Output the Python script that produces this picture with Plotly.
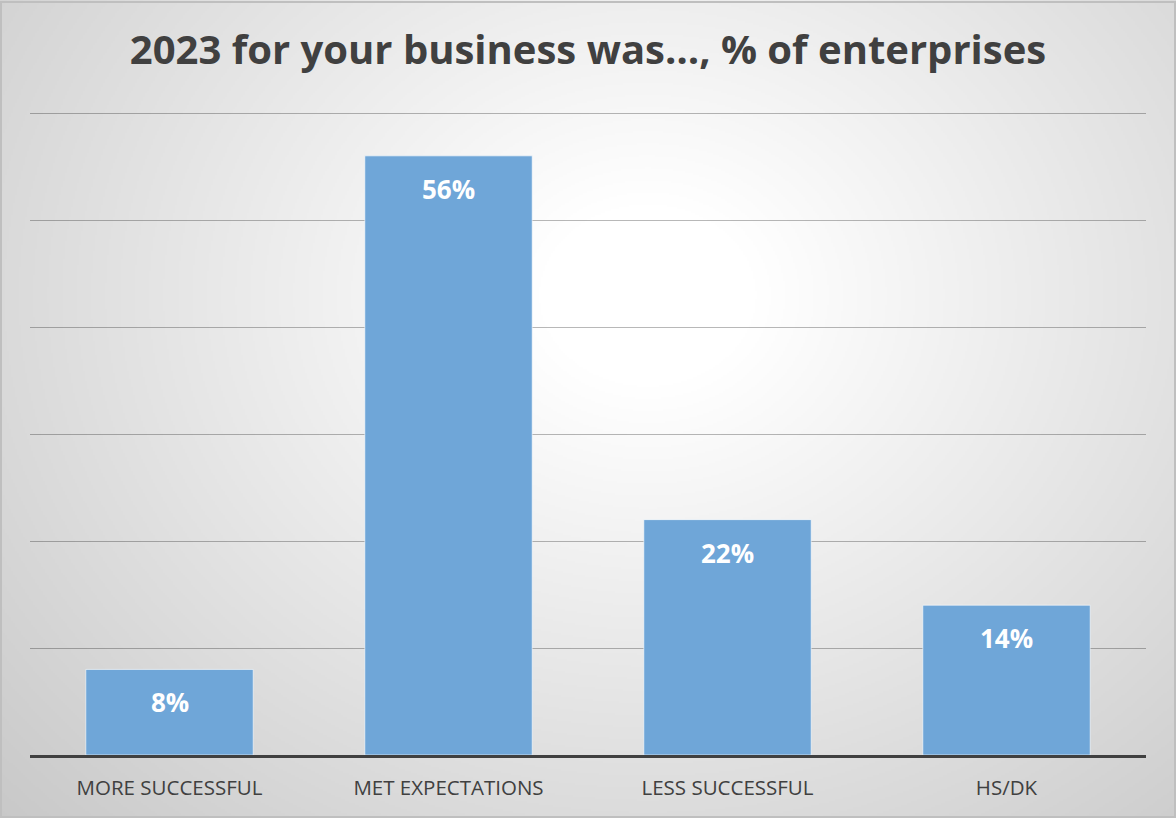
import base64, struct, zlib
import numpy as np
import plotly.graph_objects as go

categories = ["MORE SUCCESSFUL", "MET EXPECTATIONS", "LESS SUCCESSFUL", "HS/DK"]
values = [8, 56, 22, 14]
labels = ["8%", "56%", "22%", "14%"]
title = "2023 for your business was…, % of enterprises"

W, H = 1176, 818
L, R, T, B = 30, 30, 112, 63
pw, ph = W - L - R, H - T - B
YMAX = 60.1

# radial gradient background as PNG data URI
def gradient_png(w, h):
    yy, xx = np.mgrid[0:h, 0:w]
    cx, cy = 0.55 * w, 0.36 * h
    rx, ry = 0.62 * w, 0.75 * h
    t = np.sqrt(((xx - cx) / rx) ** 2 + ((yy - cy) / ry) ** 2)
    t = np.clip(t, 0, 1.3)
    v = 255 - 58 * np.clip(t - 0.15, 0, None) / 1.15
    v = np.clip(v, 0, 255).astype(np.uint8)
    img = np.stack([v, v, v], axis=-1)
    raw = b"".join(b"\x00" + img[r].tobytes() for r in range(h))
    def chunk(tag, data):
        c = struct.pack(">I", len(data)) + tag + data
        return c + struct.pack(">I", zlib.crc32(tag + data) & 0xffffffff)
    png = b"\x89PNG\r\n\x1a\n" + chunk(b"IHDR", struct.pack(">IIBBBBB", w, h, 8, 2, 0, 0, 0))
    png += chunk(b"IDAT", zlib.compress(raw, 9)) + chunk(b"IEND", b"")
    return "data:image/png;base64," + base64.b64encode(png).decode()

bg = gradient_png(W // 2, H // 2)

fig = go.Figure()
fig.add_trace(go.Bar(
    x=categories, y=values,
    marker=dict(color="rgb(111,166,216)", line=dict(color="rgba(255,255,255,0.6)", width=1)),
    hoverinfo="skip",
))

for c, v, lab in zip(categories, values, labels):
    fig.add_annotation(x=c, y=v, text=lab, showarrow=False, yanchor="middle", yshift=-33,
                       font=dict(family="Open Sans", size=26, color="white", weight="bold"))

fig.update_layout(
    width=W, height=H,
    margin=dict(l=L, r=R, t=T, b=B),
    paper_bgcolor="rgba(0,0,0,0)",
    plot_bgcolor="rgba(0,0,0,0)",
    bargap=0.4,
    showlegend=False,
    title=dict(text="<b>" + title + "</b>", x=0.5, xanchor="center", y=1 - 50 / H, yanchor="middle",
               font=dict(family="Open Sans", size=40, color="#404040")),
    xaxis=dict(showline=True, linecolor="#404040", linewidth=3, ticks="", showgrid=False,
               tickfont=dict(family="Open Sans", size=20.5, color="#404040"), ticklabelstandoff=12,
               fixedrange=True),
    yaxis=dict(range=[0, YMAX], dtick=10, showticklabels=False, showgrid=True,
               gridcolor="rgba(0,0,0,0.28)", gridwidth=1, zeroline=False, fixedrange=True),
    images=[dict(source=bg, xref="paper", yref="paper", x=-L / pw, y=1 + T / ph,
                 sizex=W / pw, sizey=H / ph, sizing="stretch", xanchor="left", yanchor="top",
                 layer="below")],
    shapes=[dict(type="rect", xref="paper", yref="paper", x0=-(L - 1) / pw, x1=1 + (R - 1) / pw,
                 y0=-(B - 1) / ph, y1=1 + (T - 2) / ph, line=dict(color="#bfbfbf", width=2),
                 layer="below")],
)

fig.write_html("out.html", config={"displayModeBar": False})
